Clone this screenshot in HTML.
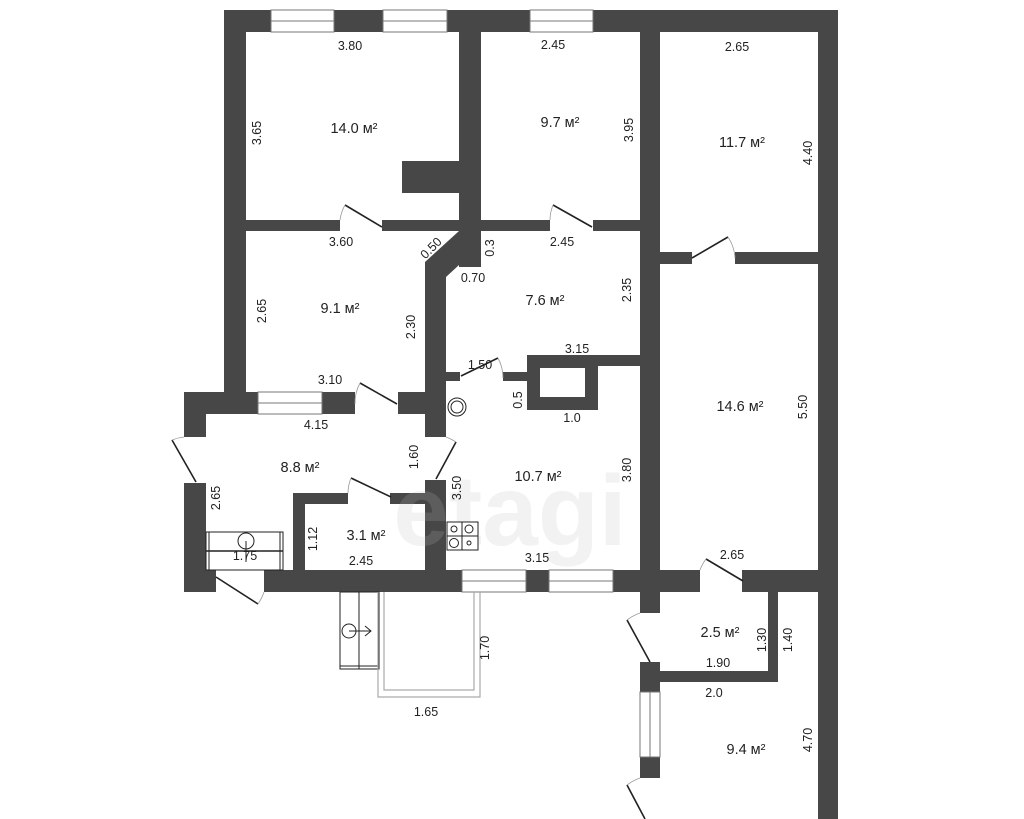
<!DOCTYPE html>
<html><head><meta charset="utf-8"><style>
html,body{margin:0;padding:0;background:#fff;width:1024px;height:819px;overflow:hidden}
svg{display:block}
text{font-family:"Liberation Sans Narrow","Liberation Sans",sans-serif;fill:#222;font-size:12.5px}
.a{font-size:14.5px}
</style></head><body>
<svg width="1024" height="819" viewBox="0 0 1024 819" xmlns="http://www.w3.org/2000/svg">
<text x="510" y="545" text-anchor="middle" style="font-family:'Liberation Sans',sans-serif;font-weight:bold;font-size:100px;fill:#f1f1f1">etagi</text>
<g fill="#474747">
<rect x="224" y="10" width="614" height="22"/>
<rect x="224" y="10" width="22" height="392"/>
<rect x="818" y="10" width="20" height="809"/>
<rect x="459" y="10" width="22" height="257"/>
<rect x="402" y="161" width="57" height="32"/>
<rect x="640" y="10" width="20" height="582"/>
<rect x="224" y="220" width="116" height="11"/>
<rect x="382" y="220" width="168" height="11"/>
<rect x="593" y="220" width="47" height="11"/>
<rect x="660" y="252" width="32" height="12"/>
<rect x="735" y="252" width="83" height="12"/>
<polygon points="459,231 481,231 481,265 459,265 446,277 446,437 425,437 425,262"/>
<rect x="425" y="480" width="21" height="112"/>
<rect x="446" y="372" width="14" height="9"/>
<rect x="503" y="372" width="27" height="9"/>
<path d="M527,355 H640 V366 H598 V410 H527 Z M540,368 V397 H585 V368 Z" fill-rule="evenodd"/>
<rect x="184" y="392" width="74" height="22"/>
<rect x="322" y="392" width="33" height="22"/>
<rect x="398" y="392" width="48" height="22"/>
<rect x="184" y="392" width="22" height="45"/>
<rect x="184" y="483" width="22" height="109"/>
<rect x="184" y="570" width="32" height="22"/>
<rect x="264" y="570" width="198" height="22"/>
<rect x="526" y="570" width="23" height="22"/>
<rect x="613" y="570" width="87" height="22"/>
<rect x="742" y="570" width="96" height="22"/>
<rect x="293" y="493" width="55" height="11"/>
<rect x="390" y="493" width="35" height="11"/>
<rect x="293" y="493" width="12" height="77"/>
<rect x="768" y="580" width="10" height="102"/>
<rect x="660" y="671" width="118" height="11"/>
<rect x="640" y="592" width="20" height="21"/>
<rect x="640" y="662" width="20" height="30"/>
<rect x="640" y="757" width="20" height="21"/>
</g>
<text x="510" y="545" text-anchor="middle" style="font-family:'Liberation Sans',sans-serif;font-weight:bold;font-size:100px;fill:#fff;fill-opacity:0.12">etagi</text>
<g fill="#fff" stroke="#777" stroke-width="1">
<rect x="271" y="10" width="63" height="22"/><line x1="271" y1="21" x2="334" y2="21"/>
<rect x="383" y="10" width="64" height="22"/><line x1="383" y1="21" x2="447" y2="21"/>
<rect x="530" y="10" width="63" height="22"/><line x1="530" y1="21" x2="593" y2="21"/>
<rect x="258" y="392" width="64" height="22"/><line x1="258" y1="403" x2="322" y2="403"/>
<rect x="462" y="570" width="64" height="22"/><line x1="462" y1="581" x2="526" y2="581"/>
<rect x="549" y="570" width="64" height="22"/><line x1="549" y1="581" x2="613" y2="581"/>
<rect x="640" y="692" width="20" height="65"/><line x1="650" y1="692" x2="650" y2="757"/>
</g>
<g stroke="#222" stroke-width="1.6" fill="none">
<line x1="345" y1="205" x2="382" y2="227"/>
<line x1="553" y1="205" x2="592" y2="227"/>
<line x1="692" y1="258" x2="728" y2="237"/>
<line x1="360" y1="383" x2="397" y2="404"/>
<line x1="461" y1="376" x2="498" y2="358"/>
<line x1="172" y1="440" x2="196" y2="482"/>
<line x1="456" y1="442" x2="436" y2="479"/>
<line x1="351" y1="478" x2="391" y2="497"/>
<line x1="216" y1="577" x2="258" y2="604"/>
<line x1="706" y1="559" x2="743" y2="581"/>
<line x1="627" y1="620" x2="650" y2="662"/>
<line x1="627" y1="785" x2="645" y2="819"/>
</g>
<g stroke="#999" stroke-width="0.8" fill="none">
<path d="M340,220 A42 42 0 0 1 345,205"/>
<path d="M550,220 A42 42 0 0 1 553,205"/>
<path d="M728,237 A42 42 0 0 1 735,258"/>
<path d="M355,404 A42 42 0 0 1 360,383"/>
<path d="M498,358 A42 42 0 0 1 503,378"/>
<path d="M172,440 A46 46 0 0 1 184,437"/>
<path d="M456,442 A46 46 0 0 0 446,437"/>
<path d="M348,493 A42 42 0 0 1 351,478"/>
<path d="M258,604 A48 48 0 0 0 264,592"/>
<path d="M700,570 A42 42 0 0 1 706,559"/>
<path d="M627,620 A48 48 0 0 1 640,613"/>
<path d="M627,785 A48 48 0 0 1 640,778"/>
</g>
<g stroke="#222" stroke-width="1" fill="#fff">
<circle cx="457" cy="407" r="9"/><circle cx="457" cy="407" r="6"/>
<rect x="447" y="522" width="31" height="28"/>
<line x1="462" y1="522" x2="462" y2="550"/><line x1="447" y1="536" x2="478" y2="536"/>
<circle cx="454" cy="529" r="3"/><circle cx="469" cy="529" r="4"/><circle cx="454" cy="543" r="4.5"/><circle cx="469" cy="543" r="2"/>
<rect x="206" y="532" width="77" height="38"/>
<line x1="206" y1="551" x2="283" y2="551" stroke-width="1.5"/>
<line x1="209" y1="532" x2="209" y2="570"/><line x1="280" y1="532" x2="280" y2="570"/>
<circle cx="246" cy="541" r="8" fill="none"/><line x1="246" y1="541" x2="246" y2="562"/>
<rect x="340" y="592" width="39" height="77"/>
<line x1="359" y1="592" x2="359" y2="669"/><line x1="340" y1="666" x2="379" y2="666"/>
<circle cx="349" cy="631" r="7" fill="none"/><line x1="349" y1="631" x2="371" y2="631"/>
<polyline points="365,626 371,631 365,636" fill="none"/>
</g>
<g stroke="#aaa" stroke-width="1.2" fill="none">
<path d="M378,592 V697 H480 V592"/>
<path d="M384,592 V690 H474 V592"/>
</g>
<g text-anchor="middle">
<text x="350" y="50">3.80</text><text x="553" y="49">2.45</text><text x="737" y="51">2.65</text>
<text class="a" x="354" y="133">14.0 м²</text><text class="a" x="560" y="127">9.7 м²</text><text class="a" x="742" y="147">11.7 м²</text>
<text transform="translate(261,133) rotate(-90)">3.65</text>
<text transform="translate(633,130) rotate(-90)">3.95</text>
<text transform="translate(812,153) rotate(-90)">4.40</text>
<text x="341" y="246">3.60</text>
<text transform="translate(434,251) rotate(-45)">0.50</text>
<text transform="translate(494,248) rotate(-90)">0.3</text>
<text x="562" y="246">2.45</text><text x="473" y="282">0.70</text>
<text class="a" x="545" y="305">7.6 м²</text>
<text transform="translate(631,290) rotate(-90)">2.35</text>
<text transform="translate(266,311) rotate(-90)">2.65</text>
<text class="a" x="340" y="313">9.1 м²</text>
<text transform="translate(415,327) rotate(-90)">2.30</text>
<text x="577" y="353">3.15</text><text x="480" y="369">1.50</text><text x="330" y="384">3.10</text>
<text transform="translate(522,400) rotate(-90)">0.5</text>
<text x="572" y="422">1.0</text><text x="316" y="429">4.15</text>
<text class="a" x="300" y="472">8.8 м²</text>
<text transform="translate(418,457) rotate(-90)">1.60</text>
<text class="a" x="538" y="481">10.7 м²</text>
<text transform="translate(631,470) rotate(-90)">3.80</text>
<text transform="translate(461,488) rotate(-90)">3.50</text>
<text transform="translate(220,498) rotate(-90)">2.65</text>
<text class="a" x="366" y="540">3.1 м²</text>
<text transform="translate(317,539) rotate(-90)">1.12</text>
<text x="245" y="560">1.75</text><text x="361" y="565">2.45</text><text x="537" y="562">3.15</text>
<text class="a" x="740" y="411">14.6 м²</text>
<text transform="translate(807,407) rotate(-90)">5.50</text>
<text x="732" y="559">2.65</text>
<text class="a" x="720" y="637">2.5 м²</text>
<text transform="translate(766,640) rotate(-90)">1.30</text>
<text transform="translate(792,640) rotate(-90)">1.40</text>
<text x="718" y="667">1.90</text><text x="714" y="697">2.0</text>
<text transform="translate(489,648) rotate(-90)">1.70</text>
<text x="426" y="716">1.65</text>
<text class="a" x="746" y="754">9.4 м²</text>
<text transform="translate(812,740) rotate(-90)">4.70</text>
</g>
</svg>
</body></html>
